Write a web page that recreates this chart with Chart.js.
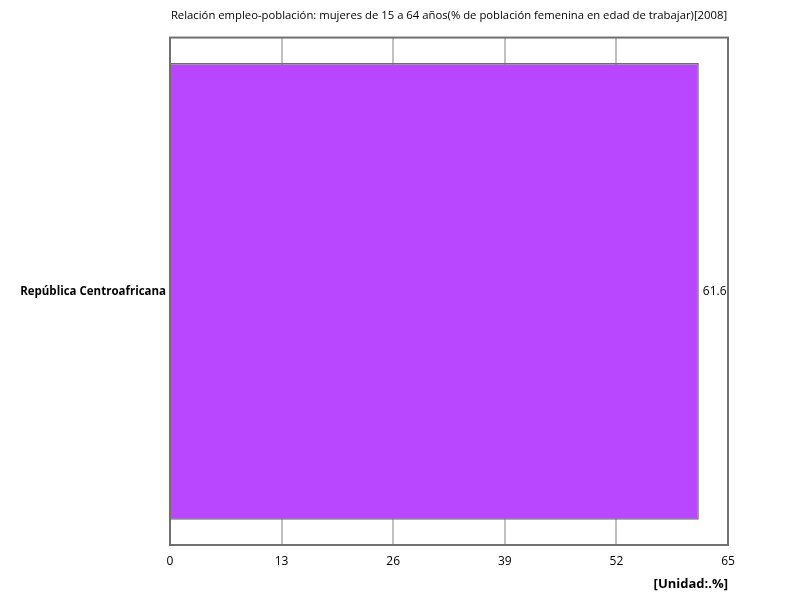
<!DOCTYPE html>
<html>
<head>
<meta charset="utf-8">
<script src="https://cdn.jsdelivr.net/npm/chart.js@4"></script>
<style>
html,body{margin:0;padding:0;background:#fff;}
#wrap{width:800px;height:600px;}
</style>
</head>
<body>
<div id="wrap"><canvas id="c" width="800" height="600"></canvas></div>
<script>
const categories = ["República Centroafricana"];
const values = [61.6];
const xTicks = [0, 13, 26, 39, 52, 65];
const titleText = "Relación empleo-población: mujeres de 15 a 64 años(% de población femenina en edad de trabajar)[2008]";
const unitText = "[Unidad:.%]";

const FONT = "'Open Sans', 'DejaVu Sans', sans-serif";

const framePlugin = {
  id: 'frame',
  afterDatasetsDraw(chart) {
    const {ctx, chartArea: a} = chart;
    ctx.save();
    ctx.strokeStyle = '#707070';
    ctx.lineWidth = 2;
    ctx.strokeRect(a.left, a.top, a.right - a.left, a.bottom - a.top);
    ctx.restore();
  }
};

const labelPlugin = {
  id: 'vlabels',
  afterDatasetsDraw(chart) {
    const {ctx} = chart;
    const meta = chart.getDatasetMeta(0);
    ctx.save();
    ctx.font = "12px " + FONT;
    ctx.fillStyle = '#000';
    ctx.textAlign = 'left';
    ctx.textBaseline = 'middle';
    meta.data.forEach((el, i) => {
      ctx.fillText(String(values[i]), el.x + 4, el.y);
    });
    ctx.restore();
  }
};

new Chart(document.getElementById('c'), {
  type: 'bar',
  data: {
    labels: categories,
    datasets: [{
      data: values,
      backgroundColor: '#b847ff',
      borderColor: '#6e6e6e',
      borderWidth: 1.5,
      barPercentage: 0.9,
      categoryPercentage: 1.0
    }]
  },
  options: {
    indexAxis: 'y',
    responsive: false,
    animation: false,
    devicePixelRatio: 1,
    layout: { padding: { left: 0, right: 72, top: 5, bottom: 8 } },
    plugins: {
      legend: { display: false },
      tooltip: { enabled: false },
      title: {
        display: true,
        text: titleText,
        fullSize: false,
        color: '#000',
        font: { family: FONT, size: 11.3, weight: 'normal' },
        padding: { top: 4, bottom: 15 }
      }
    },
    scales: {
      x: {
        min: 0, max: 65,
        afterBuildTicks(s) { s.ticks = xTicks.map(v => ({ value: v })); },
        afterFit(s) { s.height = 47; },
        ticks: { color: '#000', font: { family: FONT, size: 12 }, padding: 9 },
        grid: { color: '#c0c0c0', lineWidth: 2, drawTicks: false },
        border: { display: false },
        title: {
          display: true, text: unitText, align: 'end', color: '#000',
          font: { family: FONT, size: 13, weight: 'bold' },
          padding: { top: 0, bottom: 0 }
        }
      },
      y: {
        afterFit(s) { s.width = 170; },
        ticks: { color: '#000', font: { family: FONT, size: 11.5, weight: 'bold' }, padding: 4 },
        grid: { display: false, drawTicks: false },
        border: { display: false }
      }
    }
  },
  plugins: [framePlugin, labelPlugin]
});
</script>
</body>
</html>
